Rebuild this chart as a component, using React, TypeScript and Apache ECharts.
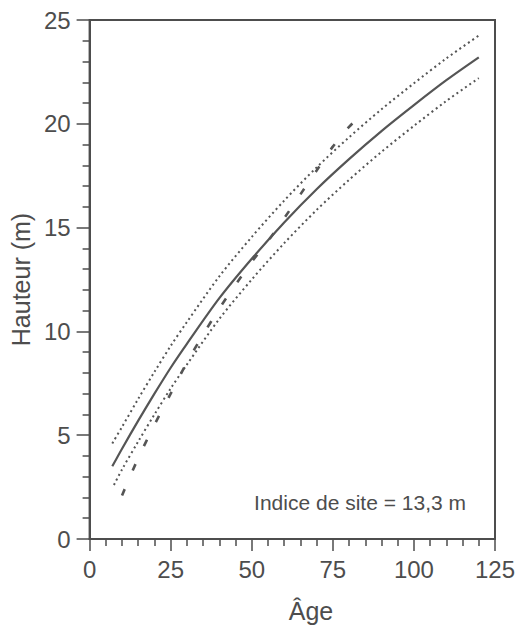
import React, { useEffect, useRef } from "react";
import * as echarts from "echarts";

const solidAges = [7, 10, 15, 20, 25, 30, 40, 50, 60, 70, 80, 90, 100, 110, 120];
const solidHeights = [3.5, 4.35, 5.7, 7.0, 8.25, 9.4, 11.6, 13.5, 15.25, 16.85, 18.3, 19.65, 20.9, 22.1, 23.2];

const upperAges = [7, 10, 15, 20, 25, 30, 40, 50, 60, 70, 80, 90, 100, 110, 120];
const upperHeights = [4.6, 5.4, 6.75, 8.05, 9.3, 10.45, 12.65, 14.55, 16.3, 17.9, 19.35, 20.7, 21.95, 23.15, 24.25];

const lowerAges = [7.5, 10, 15, 20, 25, 30, 40, 50, 60, 70, 80, 90, 100, 110, 120];
const lowerHeights = [2.6, 3.35, 4.7, 6.0, 7.25, 8.4, 10.6, 12.5, 14.25, 15.85, 17.3, 18.65, 19.9, 21.1, 22.2];

const dashedAges = [10, 15, 20, 25, 30, 35, 40, 45, 50, 55, 60, 65, 70, 75, 80, 83];
const dashedHeights = [2.1, 3.9, 5.5, 7.0, 8.5, 9.85, 11.1, 12.25, 13.35, 14.35, 15.45, 16.6, 17.75, 18.9, 19.85, 20.3];

const xTicks = [0, 25, 50, 75, 100, 125];
const yTicks = [0, 5, 10, 15, 20, 25];

const xTitle = "Âge";
const yTitle = "Hauteur (m)";
const note = "Indice de site = 13,3 m";

const FONT = "'Liberation Sans', Arial, Helvetica, sans-serif";
const INK = "#4d4d4d";

const pairs = (xs: number[], ys: number[]) => xs.map((x, i) => [x, ys[i]]);

export default function App() {
  const ref = useRef<HTMLDivElement>(null);
  useEffect(() => {
    if (!ref.current) return;
    const chart = echarts.init(ref.current, null, { renderer: "svg" });
    const lineBase = { type: "line", showSymbol: false, smooth: 0.3, silent: true };
    chart.setOption({
      animation: false,
      backgroundColor: "#fff",
      grid: {
        left: 84,
        right: 25,
        top: 20,
        bottom: 92,
        show: true,
        borderColor: INK,
        borderWidth: 2,
        backgroundColor: "transparent",
      },
      xAxis: {
        type: "value",
        min: xTicks[0],
        max: xTicks[xTicks.length - 1],
        interval: 25,
        axisLine: { show: true, lineStyle: { color: INK, width: 2 } },
        axisTick: { show: true, inside: false, length: 12, lineStyle: { color: INK, width: 1.5 } },
        minorTick: { show: true, splitNumber: 5, length: 7, lineStyle: { color: INK, width: 1.5 } },
        splitLine: { show: false },
        axisLabel: { color: INK, fontSize: 24, fontFamily: FONT, margin: 18 },
      },
      yAxis: {
        type: "value",
        min: yTicks[0],
        max: yTicks[yTicks.length - 1],
        interval: 5,
        name: yTitle,
        nameLocation: "middle",
        nameGap: 50,
        nameTextStyle: { color: INK, fontSize: 25, fontFamily: FONT },
        axisLine: { show: true, lineStyle: { color: INK, width: 2 } },
        axisTick: { show: true, inside: false, length: 13, lineStyle: { color: INK, width: 1.5 } },
        minorTick: { show: true, splitNumber: 5, length: 7, lineStyle: { color: INK, width: 1.5 } },
        splitLine: { show: false },
        axisLabel: { color: INK, fontSize: 24, fontFamily: FONT, margin: 19 },
      },
      graphic: [
        {
          type: "text",
          x: 311,
          y: 611,
          style: {
            text: xTitle,
            fill: INK,
            font: `25px ${FONT}`,
            textAlign: "center",
            textVerticalAlign: "middle",
          },
        },
        {
          type: "text",
          x: 466,
          y: 502,
          style: {
            text: note,
            fill: INK,
            font: `21px ${FONT}`,
            textAlign: "right",
            textVerticalAlign: "middle",
          },
        },
      ],
      series: [
        {
          ...lineBase,
          name: "Hauteur moyenne",
          data: pairs(solidAges, solidHeights),
          lineStyle: { color: "#555", width: 2.2, type: "solid" },
        },
        {
          ...lineBase,
          name: "Limite supérieure",
          data: pairs(upperAges, upperHeights),
          lineStyle: { color: "#555", width: 2, type: [2, 3.2] },
        },
        {
          ...lineBase,
          name: "Limite inférieure",
          data: pairs(lowerAges, lowerHeights),
          lineStyle: { color: "#555", width: 2, type: [2, 3.2] },
        },
        {
          ...lineBase,
          name: "Observée",
          data: pairs(dashedAges, dashedHeights),
          lineStyle: { color: "#555", width: 2.6, type: [7, 20] },
        },
      ],
    });
    return () => chart.dispose();
  }, []);
  return (
    <div
      ref={ref}
      style={{ position: "absolute", left: 0, top: 0, width: 520, height: 631 }}
    />
  );
}
